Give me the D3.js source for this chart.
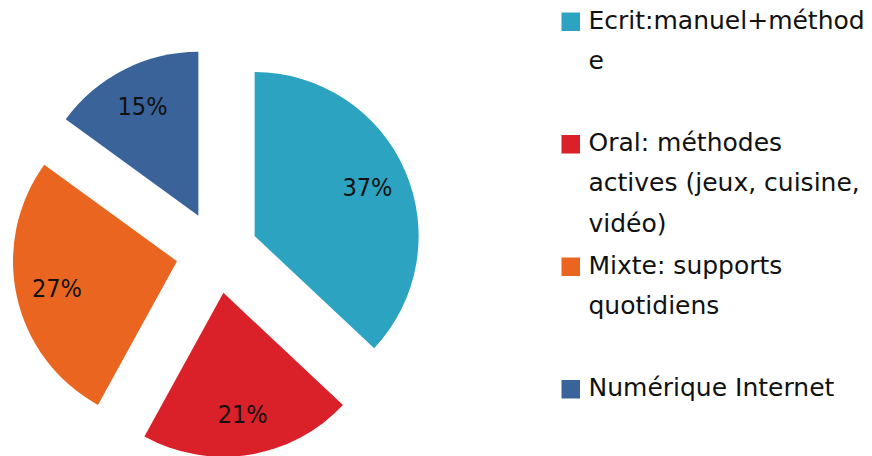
<!DOCTYPE html>
<html>
<head>
<meta charset="utf-8">
<script src="https://cdn.jsdelivr.net/npm/d3@7"></script>
<style>
html,body{margin:0;padding:0;background:#fff;}
svg{display:block;}
</style>
</head>
<body>
<svg id="chart" width="872" height="456"></svg>
<script>
const categories = ["Ecrit:manuel+méthode", "Oral: méthodes actives (jeux, cuisine, vidéo)", "Mixte: supports quotidiens", "Numérique Internet"];
const legendLines = [["Ecrit:manuel+méthod", "e"], ["Oral: méthodes", "actives (jeux, cuisine,", "vidéo)"], ["Mixte: supports", "quotidiens"], ["Numérique Internet"]];
const values = [37, 21, 27, 15];
const labels = ["37%", "21%", "27%", "15%"];
const colors = ["#2CA3C0", "#DA2029", "#EA6620", "#3A6499"];

const svg = d3.select("#chart");
const cx = 217, cy = 252.3, R = 164, explode = 41;

const pie = d3.pie().sort(null).value(d => d)(values);
const arc = d3.arc().innerRadius(0).outerRadius(R);

const g = svg.append("g").attr("transform", `translate(${cx},${cy})`);
const slices = g.selectAll("g.slice").data(pie).enter().append("g")
  .attr("class", "slice")
  .attr("transform", d => {
    const a = (d.startAngle + d.endAngle) / 2;
    return `translate(${explode * Math.sin(a)},${-explode * Math.cos(a)})`;
  });
slices.append("path").attr("d", arc).attr("fill", (d, i) => colors[i]);
slices.append("text")
  .attr("x", d => 0.75 * R * Math.sin((d.startAngle + d.endAngle) / 2))
  .attr("y", d => -0.75 * R * Math.cos((d.startAngle + d.endAngle) / 2))
  .attr("text-anchor", "middle")
  .attr("dominant-baseline", "central")
  .attr("font-family", "DejaVu Sans Condensed, DejaVu Sans")
  .attr("font-stretch", "condensed")
  .attr("font-size", 25)
  .attr("fill", "#111")
  .text((d, i) => labels[i]);

// legend
const lg = svg.append("g");
const entryTop = 28.5, entryStep = 122.5, lineStep = 40.3;
legendLines.forEach((lines, i) => {
  const base = entryTop + i * entryStep;
  lg.append("rect").attr("x", 561.5).attr("y", base - 16).attr("width", 18.5).attr("height", 18.5).attr("fill", colors[i]);
  const t = lg.append("text").attr("x", 588.5).attr("y", base)
    .attr("font-family", "DejaVu Sans").attr("font-size", 25).attr("fill", "#111");
  lines.forEach((ln, j) => {
    t.append("tspan").attr("x", 588.5).attr("y", base + j * lineStep).text(ln);
  });
});
</script>
</body>
</html>
